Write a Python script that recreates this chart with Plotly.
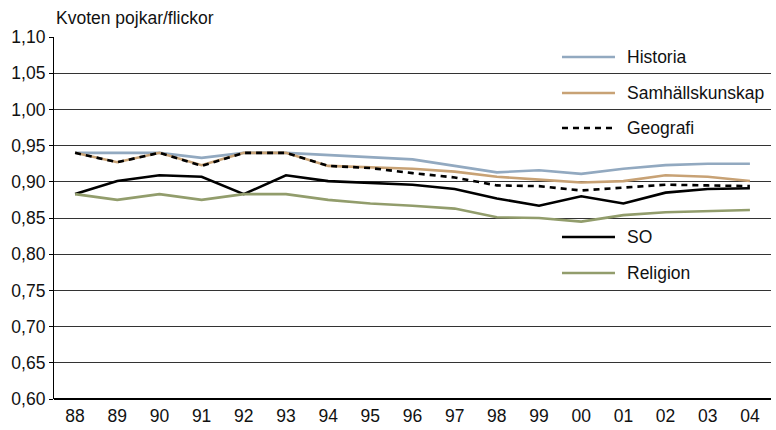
import plotly.graph_objects as go

years = ["88", "89", "90", "91", "92", "93", "94", "95", "96",
         "97", "98", "99", "00", "01", "02", "03", "04"]

historia = [0.940, 0.940, 0.940, 0.933, 0.940, 0.940, 0.937, 0.935, 0.931,
            0.922, 0.913, 0.916, 0.911, 0.918, 0.923, 0.925, 0.925]
samhallskunskap = [0.940, 0.927, 0.940, 0.923, 0.940, 0.940, 0.922, 0.920, 0.918,
                   0.914, 0.907, 0.903, 0.899, 0.901, 0.909, 0.907, 0.901]
geografi = [0.940, 0.927, 0.940, 0.922, 0.940, 0.940, 0.922, 0.919, 0.912,
            0.906, 0.895, 0.894, 0.888, 0.892, 0.896, 0.895, 0.894]
so = [0.883, 0.901, 0.909, 0.907, 0.883, 0.909, 0.901, 0.899, 0.896,
      0.890, 0.877, 0.867, 0.880, 0.870, 0.885, 0.890, 0.891]
religion = [0.883, 0.875, 0.883, 0.875, 0.883, 0.883, 0.875, 0.870, 0.867,
            0.863, 0.851, 0.850, 0.845, 0.854, 0.858, 0.860, 0.861]

y_ticks = [0.60, 0.65, 0.70, 0.75, 0.80, 0.85, 0.90, 0.95, 1.00, 1.05, 1.10]

series = [
    ("Historia", historia, "#92A9C0", "solid", 0.9448),
    ("Samhällskunskap", samhallskunskap, "#C8A275", "solid", 0.8453),
    ("Geografi", geografi, "#000000", "6px,5px", 0.7486),
    ("SO", so, "#000000", "solid", 0.4475),
    ("Religion", religion, "#929D6C", "solid", 0.3481),
]

FONT = "Liberation Sans"
FS = 17.5
fig = go.Figure()
shapes = []
annotations = []
for name, vals, color, dash, ly in series:
    fig.add_trace(go.Scatter(
        x=years, y=vals, mode="lines", name=name,
        line=dict(color=color, width=2.6, dash=dash),
        showlegend=False,
    ))
    # custom legend sample + label
    shapes.append(dict(type="line", xref="paper", yref="paper",
                       x0=0.7085, x1=0.7824, y0=ly, y1=ly,
                       line=dict(color=color, width=2.6, dash=dash)))
    annotations.append(dict(xref="paper", yref="paper", x=0.7958, y=ly,
                            xanchor="left", yanchor="middle", text=name,
                            showarrow=False,
                            font=dict(family=FONT, size=FS, color="#111")))

annotations.append(dict(xref="paper", yref="paper", x=0.0, y=1.052,
                        xanchor="left", yanchor="middle",
                        text="Kvoten pojkar/flickor", showarrow=False,
                        font=dict(family=FONT, size=FS, color="#111")))

fig.update_layout(
    width=776, height=430,
    margin=dict(l=54, r=5, t=37, b=31),
    paper_bgcolor="white", plot_bgcolor="white",
    separators=", ",
    font=dict(family=FONT, size=FS, color="#111"),
    shapes=shapes, annotations=annotations,
    showlegend=False,
)
fig.update_xaxes(
    type="category", range=[-0.5, 16.5],
    showgrid=False, ticks="", showline=False, zeroline=False,
    ticklabelstandoff=4,
    tickfont=dict(family=FONT, size=FS, color="#111"),
)
fig.update_yaxes(
    range=[0.60, 1.10], tickvals=y_ticks, tickformat=".2f",
    showgrid=True, gridcolor="#333333", gridwidth=1,
    showline=True, linecolor="#000", linewidth=1.2,
    ticks="outside", ticklen=4, tickcolor="#000",
    zeroline=False,
    tickfont=dict(family=FONT, size=FS, color="#111"),
)
# bottom axis line drawn thicker
fig.add_shape(type="line", xref="paper", yref="paper", x0=0, x1=1, y0=0, y1=0,
              line=dict(color="#000", width=2), layer="above")

fig.write_html("out.html",
               config={"displayModeBar": False},
               post_script="document.body.style.margin='0px';document.body.style.padding='0px';")
